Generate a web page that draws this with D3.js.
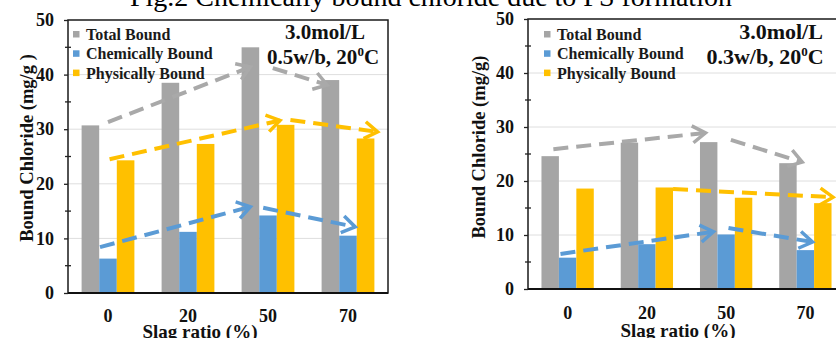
<!DOCTYPE html>
<html><head><meta charset="utf-8">
<script src="https://cdn.jsdelivr.net/npm/d3@7"></script>
<style>
html,body{margin:0;padding:0;background:#fff;}
svg{display:block;}
text{font-family:"Liberation Serif","Times New Roman",serif;}
</style></head>
<body><svg id="c" width="836" height="338"></svg>
<script>
const categories = ["0", "20", "50", "70"];
const seriesNames = ["Total Bound", "Chemically Bound", "Physically Bound"];
const seriesColors = ["#a5a5a5", "#5b9bd5", "#ffc000"];
const yTicks = [0, 10, 20, 30, 40, 50];
const yMinorTicks = [5, 15, 25, 35, 45];

// Left panel: 0.5 w/b
const leftTotal = [30.7, 38.5, 45.0, 39.0];
const leftChem = [6.3, 11.2, 14.2, 10.5];
const leftPhys = [24.3, 27.3, 30.8, 28.3];
// Right panel: 0.3 w/b
const rightTotal = [24.6, 27.1, 27.2, 23.3];
const rightChem = [5.8, 8.3, 10.1, 7.2];
const rightPhys = [18.6, 18.8, 16.9, 15.9];

// Trend arrows: [category index, value] start -> end
const leftArrowsTotal = [[[0, 31.3], [1.78, 41.4]], [[2.06, 41.2], [2.74, 38.1]]];
const leftArrowsPhys = [[[0.02, 24.5], [2.15, 31.6]], [[2.28, 31.7], [3.37, 29.5]]];
const leftArrowsChem = [[[-0.1, 8.4], [1.78, 15.8]], [[1.94, 15.6], [3.09, 12.1]]];
const rightArrowsTotal = [[[-0.18, 25.9], [1.74, 28.9]], [[2.06, 27.6], [2.96, 23.5]]];
const rightArrowsPhys = [[[1.33, 18.5], [3.35, 17.0]]];
const rightArrowsChem = [[[-0.09, 6.5], [1.84, 10.6]], [[2.03, 11.3], [3.09, 8.7]]];

const titleText = "Fig.2 Chemically bound chloride due to FS formation";
const yLabels = ["Bound Chloride (mg/g )", "Bound Chloride (mg/g)"];
const xLabel = "Slag ratio (%)";
const concText = "3.0mol/L";
const condTexts = ["0.5w/b, 20", "0.3w/b, 20"];

const svg = d3.select("#c");

svg.append("text").attr("x", 130).attr("y", 6).attr("font-size", 28)
  .text(titleText);

function panel(cfg) {
  const g = svg.append("g");
  const y = d3.scaleLinear().domain([0, 50]).range([cfg.y0, cfg.y1]);
  const x = d3.scaleBand().domain(categories).range([cfg.x0, cfg.x1])
    .paddingInner(0.34).paddingOuter(0.17);
  const xs = d3.scaleBand().domain(seriesNames).range([0, x.bandwidth()]);
  const xi = d3.scaleLinear().domain([0, 3])
    .range([x(categories[0]) + x.bandwidth() / 2, x(categories[3]) + x.bandwidth() / 2]);

  g.selectAll(".grid").data(yTicks.filter(v => v > 0 && v < 50)).join("line")
    .attr("x1", cfg.x0).attr("x2", cfg.x1)
    .attr("y1", d => y(d)).attr("y2", d => y(d))
    .attr("stroke", "#dedede").attr("stroke-width", 1);

  const series = [cfg.total, cfg.chem, cfg.phys];
  series.forEach((vals, si) => {
    g.selectAll(null).data(vals).join("rect")
      .attr("x", (d, i) => x(categories[i]) + xs(seriesNames[si]))
      .attr("width", xs.bandwidth())
      .attr("y", d => y(d))
      .attr("height", d => y(0) - y(d))
      .attr("fill", seriesColors[si]);
  });

  const arrowSets = [[cfg.aTotal, "#a9a9a9"], [cfg.aChem, "#5b9bd5"], [cfg.aPhys, "#ffc000"]];
  arrowSets.forEach(([arr, col]) => {
    arr.forEach(a => {
      const p0 = [xi(a[0][0]), y(a[0][1])];
      const p1 = [xi(a[1][0]), y(a[1][1])];
      g.append("line").attr("x1", p0[0]).attr("y1", p0[1])
        .attr("x2", p1[0]).attr("y2", p1[1])
        .attr("stroke", col).attr("stroke-width", 4)
        .attr("stroke-dasharray", "15,8");
      const ang = Math.atan2(p1[1] - p0[1], p1[0] - p0[0]) * 180 / Math.PI;
      g.append("path").attr("d", "M-13,-8.5L0,0L-13,8.5")
        .attr("transform", `translate(${p1[0]},${p1[1]}) rotate(${ang})`)
        .attr("fill", "none").attr("stroke", col).attr("stroke-width", 3.5)
        .attr("stroke-linejoin", "miter");
    });
  });

  g.append("rect").attr("x", cfg.x0).attr("y", cfg.y1)
    .attr("width", cfg.x1 - cfg.x0).attr("height", cfg.y0 - cfg.y1)
    .attr("fill", "none").attr("stroke", "#1a1a1a").attr("stroke-width", 1.5);
  g.append("line").attr("x1", cfg.x0).attr("x2", cfg.x1)
    .attr("y1", cfg.y0).attr("y2", cfg.y0)
    .attr("stroke", "#111").attr("stroke-width", 2.2);

  const ax = g.append("g").attr("transform", `translate(${cfg.x0},0)`)
    .call(d3.axisLeft(y).tickValues(yTicks).tickSize(4).tickPadding(10).tickFormat(d3.format("d")));
  ax.select(".domain").remove();
  ax.selectAll("line").attr("stroke", "#222").attr("stroke-width", 1.3);
  ax.selectAll("text").attr("font-size", 18).attr("font-weight", "bold")
    .attr("font-family", "Liberation Serif, serif").attr("fill", "#111");
  g.selectAll(null).data(yMinorTicks).join("line")
    .attr("x1", cfg.x0 - 3).attr("x2", cfg.x0 + 3)
    .attr("y1", d => y(d)).attr("y2", d => y(d))
    .attr("stroke", "#222").attr("stroke-width", 1.3);

  g.selectAll(null).data(categories).join("text")
    .attr("x", d => x(d) + x.bandwidth() / 2).attr("y", cfg.xTickY)
    .attr("text-anchor", "middle").attr("font-size", 18).attr("font-weight", "bold")
    .attr("fill", "#111").text(d => d);
  g.append("text").attr("x", cfg.xLabelX).attr("y", cfg.xLabelY)
    .attr("text-anchor", "middle").attr("font-size", 19).attr("font-weight", "bold")
    .attr("fill", "#111").text(xLabel);
  g.append("text").attr("transform", `translate(${cfg.yLabelX},${cfg.yLabelY}) rotate(-90)`)
    .attr("text-anchor", "middle").attr("font-size", 18.5).attr("font-weight", "bold")
    .attr("fill", "#111").text(cfg.yLabel);

  seriesNames.forEach((s, i) => {
    const cy = cfg.legY + i * 19.3;
    g.append("rect").attr("x", cfg.legX).attr("y", cy - 3.5).attr("width", 6.5).attr("height", 6.5)
      .attr("fill", seriesColors[i]);
    g.append("text").attr("x", cfg.legX + 13).attr("y", cy + 5.5)
      .attr("font-size", 16).attr("font-weight", "bold").attr("fill", "#1a1a1a").text(s);
  });

  g.append("text").attr("x", cfg.annX).attr("y", 39).attr("text-anchor", "middle")
    .attr("font-size", cfg.annSize).attr("font-weight", "bold").attr("fill", "#111").text(concText);
  const t2 = g.append("text").attr("x", cfg.ann2X).attr("y", 64).attr("text-anchor", "middle")
    .attr("font-size", cfg.annSize).attr("font-weight", "bold").attr("fill", "#111");
  t2.append("tspan").text(cfg.cond);
  t2.append("tspan").attr("font-size", 13).attr("dy", -8).text("0");
  t2.append("tspan").attr("dy", 8).text("C");
}

panel({x0: 68, x1: 388, y0: 293, y1: 20,
  total: leftTotal, chem: leftChem, phys: leftPhys,
  aTotal: leftArrowsTotal, aChem: leftArrowsChem, aPhys: leftArrowsPhys,
  xTickY: 322, xLabelX: 200, xLabelY: 338, yLabelX: 33, yLabelY: 148, yLabel: yLabels[0],
  legX: 73, legY: 34.5, annX: 325, ann2X: 323, annSize: 21, cond: condTexts[0]});

panel({x0: 528, x1: 845, y0: 289, y1: 19,
  total: rightTotal, chem: rightChem, phys: rightPhys,
  aTotal: rightArrowsTotal, aChem: rightArrowsChem, aPhys: rightArrowsPhys,
  xTickY: 319, xLabelX: 678, xLabelY: 337, yLabelX: 485, yLabelY: 147, yLabel: yLabels[1],
  legX: 544, legY: 34.5, annX: 781, ann2X: 765, annSize: 22, cond: condTexts[1]});
</script></body></html>
